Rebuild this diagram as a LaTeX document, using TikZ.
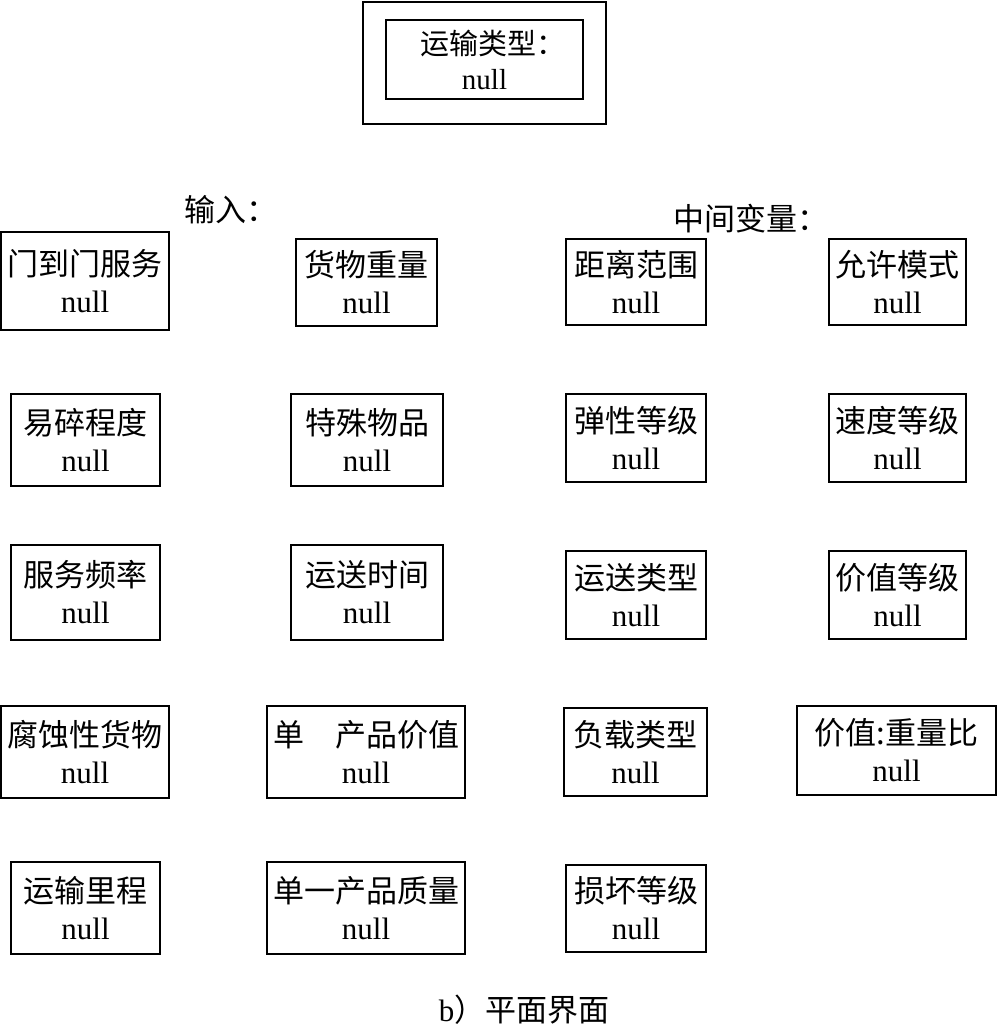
\documentclass[tikz,border=0pt]{standalone}
\usepackage{fontspec}
\setmainfont{Liberation Serif}
\newfontfamily\cjk{Noto Sans CJK SC}
\newcommand{\nullv}{\textrm{null}}
\newcommand{\fcolon}{\makebox[0.4em][l]{：}}

\begin{document}
\begin{tikzpicture}[x=1pt, y=-1pt,
    varbox/.style={draw, line width=1.6pt, align=center, inner sep=2pt,
        font=\cjk\fontsize{31}{37}\selectfont},
    tag/.style={font=\cjk\fontsize{31}{37}\selectfont}]
    % page frame
    \useasboundingbox (0,0) rectangle (998,1027);

    % Output box at the top
    \node[draw, line width=1.6pt, minimum width=243, minimum height=122] (outbox) at (484.5,63) {};
    \node[varbox, minimum width=197, minimum height=79, font=\cjk\fontsize{29}{35}\selectfont] (out) at (484.5,59.5) {运输类型\fcolon\\\nullv};

    % Group labels
    \node[tag] (inlabel) at (222,210) {输入\fcolon};
    \node[tag] (midlabel) at (742,219) {中间变量\fcolon};

    % Inputs, first column
    \node[varbox, minimum width=168, minimum height=98] (dtd) at (85,281) {门到门服务\\\nullv};
    \node[varbox, minimum width=149, minimum height=92] (fragile) at (85.5,440) {易碎程度\\\nullv};
    \node[varbox, minimum width=149, minimum height=95] (freq) at (85.5,592.5) {服务频率\\\nullv};
    \node[varbox, minimum width=168, minimum height=92] (corr) at (85,752) {腐蚀性货物\\\nullv};
    \node[varbox, minimum width=149, minimum height=92] (dist) at (85.5,908) {运输里程\\\nullv};

    % Inputs, second column
    \node[varbox, minimum width=141, minimum height=87] (weight) at (366.5,282.5) {货物重量\\\nullv};
    \node[varbox, minimum width=152, minimum height=92] (special) at (367,440) {特殊物品\\\nullv};
    \node[varbox, minimum width=152, minimum height=95] (time) at (367,592.5) {运送时间\\\nullv};
    \node[varbox, minimum width=198, minimum height=92] (pvalue) at (366,752) {单\hspace{1em}产品价值\\\nullv};
    \node[varbox, minimum width=198, minimum height=92] (pmass) at (366,908) {单一产品质量\\\nullv};

    % Intermediate variables, third column
    \node[varbox, minimum width=140, minimum height=86] (range) at (636,282) {距离范围\\\nullv};
    \node[varbox, minimum width=140, minimum height=88] (elastic) at (636,438) {弹性等级\\\nullv};
    \node[varbox, minimum width=140, minimum height=88] (stype) at (636,595) {运送类型\\\nullv};
    \node[varbox, minimum width=143, minimum height=88] (load) at (635.5,752) {负载类型\\\nullv};
    \node[varbox, minimum width=140, minimum height=87] (damage) at (636,908.5) {损坏等级\\\nullv};

    % Intermediate variables, fourth column
    \node[varbox, minimum width=137, minimum height=86] (mode) at (897.5,282) {允许模式\\\nullv};
    \node[varbox, minimum width=137, minimum height=88] (speed) at (897.5,438) {速度等级\\\nullv};
    \node[varbox, minimum width=137, minimum height=88] (vlevel) at (897.5,595) {价值等级\\\nullv};
    \node[varbox, minimum width=199, minimum height=89] (ratio) at (896.5,750.5) {价值:重量比\\\nullv};

    % Caption
    \node[tag] (caption) at (524,1010) {\textrm{b}）平面界面};
\end{tikzpicture}
\end{document}
